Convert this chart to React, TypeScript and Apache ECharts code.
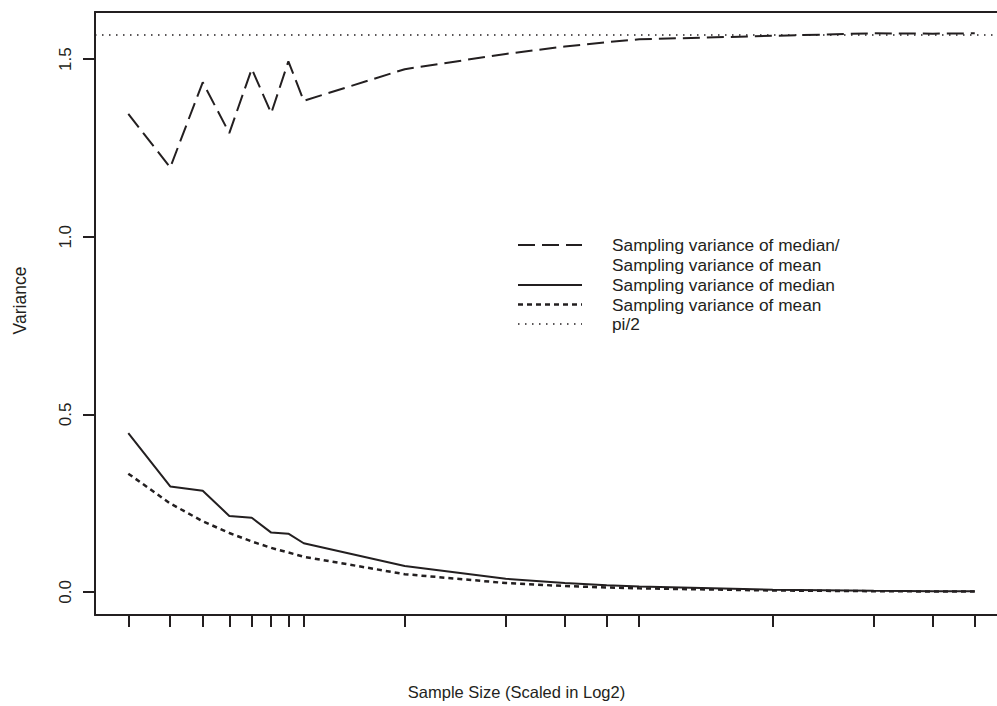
import React, { useEffect, useRef } from "react";
import * as echarts from "echarts";

const sampleSizes = [3, 4, 5, 6, 7, 8, 9, 10, 20, 40, 60, 80, 100, 250, 500, 750, 1000];
const ratioMedianMean = [1.346, 1.195, 1.435, 1.292, 1.473, 1.348, 1.494, 1.383, 1.472, 1.515, 1.536, 1.548, 1.556, 1.566, 1.573, 1.572, 1.573];
const varMedian = [0.447, 0.297, 0.285, 0.214, 0.209, 0.167, 0.164, 0.137, 0.073, 0.037, 0.025, 0.019, 0.0155, 0.0063, 0.0031, 0.0021, 0.0016];
const varMean = [0.333, 0.249, 0.199, 0.166, 0.142, 0.124, 0.111, 0.099, 0.05, 0.025, 0.0166, 0.0124, 0.01, 0.004, 0.002, 0.0013, 0.001];
const piHalf = 1.5708;
const yTicks = [0, 0.5, 1.0, 1.5];
const legendLabels = [
  "Sampling variance of median/",
  "Sampling variance of mean",
  "Sampling variance of median",
  "Sampling variance of mean",
  "pi/2",
];

const INK = "#231f20";
const FONT = "'Liberation Sans', Arial, sans-serif";
const DASH_LONG = [17, 7];
const DASH_SHORT = [5, 4];
const DASH_DOT = [1.5, 5.5];

export default function App() {
  const ref = useRef<HTMLDivElement>(null);
  useEffect(() => {
    if (!ref.current) return;
    const chart = echarts.init(ref.current, undefined, { renderer: "svg" });
    const pair = (ys: number[]) => sampleSizes.map((n, i) => [n, ys[i]]);
    const legendX0 = 518;
    const legendX1 = 582;
    const textX = 612;
    const rowY = [245, 265, 285, 304.5, 324];
    const legendLine = (y: number, dash: any, width: number) => ({
      type: "line",
      shape: { x1: legendX0, y1: y, x2: legendX1, y2: y },
      style: { stroke: INK, lineWidth: width, lineDash: dash },
      silent: true,
    });
    const axisLineStyle = { color: INK, width: 2 };
    chart.setOption({
      animation: false,
      backgroundColor: "#ffffff",
      grid: {
        show: false,
        left: 95,
        top: 12,
        right: 0,
        bottom: 91,
        containLabel: false,
      },
      xAxis: [
        {
          type: "log",
          logBase: 2,
          min: 2.387,
          max: 1165,
          position: "bottom",
          name: "Sample Size (Scaled in Log2)",
          nameLocation: "middle",
          nameGap: 68,
          nameTextStyle: { fontFamily: FONT, fontSize: 16.5, color: INK, padding: [0, 59, 0, 0] },
          axisLine: { show: true, onZero: false, lineStyle: axisLineStyle },
          axisTick: {
            show: true,
            inside: false,
            length: 12,
            customValues: sampleSizes,
            lineStyle: axisLineStyle,
          },
          axisLabel: { show: false },
          splitLine: { show: false },
          minorTick: { show: false },
        },
        {
          type: "value",
          min: 0,
          max: 1,
          position: "top",
          axisLine: { show: true, onZero: false, lineStyle: axisLineStyle },
          axisTick: { show: false },
          axisLabel: { show: false },
          splitLine: { show: false },
        },
      ],
      yAxis: {
        type: "value",
        min: -0.065,
        max: 1.633,
        name: "Variance",
        nameLocation: "middle",
        nameRotate: 90,
        nameGap: 66,
        nameTextStyle: { fontFamily: FONT, fontSize: 17.5, color: INK, padding: [0, 0, 0, 26] },
        axisLine: { show: true, onZero: false, lineStyle: axisLineStyle },
        axisTick: {
          show: true,
          length: 12,
          customValues: yTicks,
          lineStyle: axisLineStyle,
        },
        axisLabel: {
          show: true,
          customValues: yTicks,
          rotate: 90,
          margin: 21,
          fontFamily: FONT,
          fontSize: 17,
          color: INK,
          formatter: (v: number) => v.toFixed(1),
        },
        splitLine: { show: false },
      },
      series: [
        {
          name: "ratio",
          type: "line",
          xAxisIndex: 0,
          data: pair(ratioMedianMean),
          symbol: "none",
          lineStyle: { color: INK, width: 2, type: DASH_LONG },
          silent: true,
        },
        {
          name: "median",
          type: "line",
          xAxisIndex: 0,
          data: pair(varMedian),
          symbol: "none",
          lineStyle: { color: INK, width: 2, type: "solid" },
          silent: true,
        },
        {
          name: "mean",
          type: "line",
          xAxisIndex: 0,
          data: pair(varMean),
          symbol: "none",
          lineStyle: { color: INK, width: 2.5, type: DASH_SHORT },
          silent: true,
          markLine: {
            silent: true,
            symbol: ["none", "none"],
            label: { show: false },
            lineStyle: { color: INK, width: 1.5, type: DASH_DOT },
            data: [{ yAxis: piHalf }],
          },
        },
      ],
      graphic: [
        legendLine(rowY[0], DASH_LONG, 2),
        legendLine(rowY[2], "solid", 2),
        legendLine(rowY[3], DASH_SHORT, 2.5),
        legendLine(rowY[4], DASH_DOT, 1.5),
        ...legendLabels.map((t, i) => ({
          type: "text",
          x: textX,
          y: rowY[i],
          silent: true,
          style: {
            text: t,
            fontFamily: FONT,
            fontSize: 17.3,
            fill: INK,
            textAlign: "left",
            textVerticalAlign: "middle",
          },
        })),
      ],
    });
    return () => chart.dispose();
  }, []);
  return (
    <div
      ref={ref}
      style={{ position: "fixed", left: 0, top: 0, width: 997, height: 706 }}
    />
  );
}
